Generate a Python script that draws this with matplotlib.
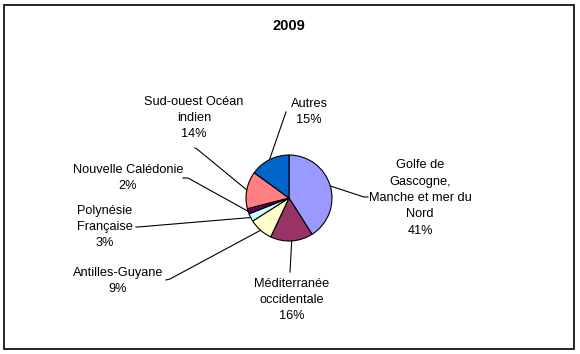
import numpy as np
import matplotlib
matplotlib.use("Agg")
import matplotlib.pyplot as plt
from matplotlib.patches import Rectangle

plt.rcParams['font.family'] = ['Liberation Sans', 'DejaVu Sans']

title = "2009"
regions = ["Golfe de\nGascogne,\nManche et mer du\nNord", "Méditerranée\noccidentale",
           "Antilles-Guyane", "Polynésie\nFrançaise", "Nouvelle Calédonie",
           "Sud-ouest Océan\nindien", "Autres"]
shares = [41, 16, 9, 3, 2, 14, 15]
colors = ["#9999FF", "#993366", "#FFFFCC", "#CCFFFF", "#660066", "#FF8080", "#0066CC"]

# label centre and where the leader line meets the label (pixels, y down)
label_pos = [(420, 198), (292, 300), (118, 281), (105, 227), (128, 178), (194, 118), (309, 112)]
leader_end = [[(364, 197), (368, 197)], [(290, 272)], [(170, 279), (166, 280)],
              [(138, 227), (136, 227)], [(188, 178), (183, 178)],
              [(197, 149), (195, 148)], [(286, 112)]]

fig = plt.figure(figsize=(5.8, 3.54), dpi=100)
ax = fig.add_axes([0, 0, 1, 1])

cx, cy, r = 289, 198, 43
wedges, _ = ax.pie(shares, colors=colors, startangle=-90, counterclock=True,
                   center=(cx, cy), radius=r,
                   wedgeprops=dict(edgecolor="black", linewidth=0.8))
ax.set_xlim(0, 580)
ax.set_ylim(354, 0)
ax.axis("off")

ax.add_patch(Rectangle((4, 5), 570, 344, fill=False, edgecolor="black", linewidth=1.2))
ax.text(289, 26, title, ha="center", va="center", fontsize=10.5, fontweight="bold")

for w, name, val, (tx, ty), ends in zip(wedges, regions, shares, label_pos, leader_end):
    mid = np.deg2rad((w.theta1 + w.theta2) / 2)
    px, py = cx + r * np.cos(mid), cy + r * np.sin(mid)
    xs = [px] + [e[0] for e in ends]
    ys = [py] + [e[1] for e in ends]
    ax.plot(xs, ys, color="black", linewidth=0.8)
    ax.text(tx, ty, f"{name}\n{val}%", ha="center", va="center", fontsize=9.2,
            linespacing=1.48)

fig.savefig("out.png", dpi=100, facecolor="white")
